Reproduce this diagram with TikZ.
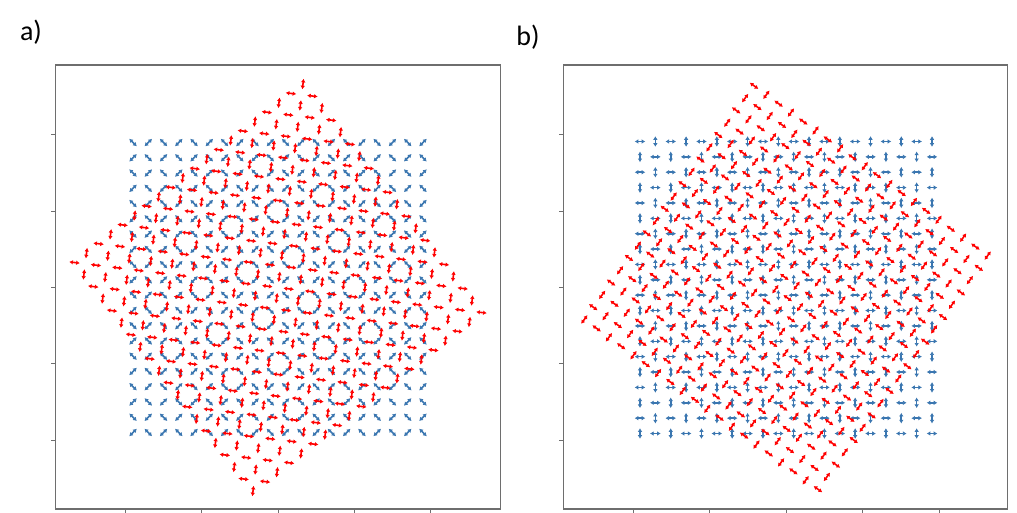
\documentclass[tikz,border=0pt]{standalone}
\usepackage{fontspec}
\setmainfont{Carlito}
\usetikzlibrary{arrows.meta}
\definecolor{qblue}{RGB}{58,118,176}
\definecolor{qred}{RGB}{255,0,0}
\definecolor{axgray}{RGB}{110,110,110}
\tikzset{
  dip/.style={line width=1.6pt, {Latex[length=3.6pt,width=4.6pt]}-{Latex[length=3.6pt,width=4.6pt]}},
  bluedip/.style={dip, color=qblue},
  reddip/.style={dip, color=qred},
  axframe/.style={draw=axgray, line width=1.1pt},
  axtick/.style={draw=axgray, line width=1pt},
  panellabel/.style={font=\fontsize{28}{32}\selectfont, inner sep=0pt}
}
% cx, cy, spacing, rotation, angle(even), angle(odd), style
\newcommand\dipgrid[7]{%
  \foreach \i in {0,...,19}{\foreach \j in {0,...,19}{%
    \pgfmathsetmacro\du{(\i-9.5)*#3}%
    \pgfmathsetmacro\dv{(\j-9.5)*#3}%
    \pgfmathsetmacro\px{#1+\du*cos(#4)+\dv*sin(#4)}%
    \pgfmathsetmacro\py{#2-\du*sin(#4)+\dv*cos(#4)}%
    \pgfmathsetmacro\al{ifthenelse(isodd(\i+\j),#6,#5)+#4}%
    \pgfmathsetmacro\ex{5.3*cos(\al)}%
    \pgfmathsetmacro\ey{5.3*sin(\al)}%
    \draw[#7] ({\px-\ex},{\py+\ey}) -- ({\px+\ex},{\py-\ey});
  }}%
}
\begin{document}
\begin{tikzpicture}[x=1pt,y=-1pt]
\useasboundingbox (0,0) rectangle (1017,512);
\fill[white] (0,0) rectangle (1017,512);

% panel labels
\node[panellabel] (la) at (31,32) {a)};
\node[panellabel] (lb) at (528,37) {b)};

% ---------- panel a ----------
\draw[axframe] (55.5,65) rectangle (500.5,509);
\foreach \k in {-2,...,2}{
  \draw[axtick] ({278+\k*76.3},509) -- ({278+\k*76.3},513);
  \draw[axtick] (55.5,{287.5+\k*76.3}) -- (51,{287.5+\k*76.3});
}
\dipgrid{278}{287.5}{15.26}{0}{135}{45}{bluedip}
\dipgrid{278}{287.5}{15.26}{38}{135}{45}{reddip}

% ---------- panel b ----------
\draw[axframe] (563.5,65) rectangle (1007.5,509);
\foreach \k in {-2,...,2}{
  \draw[axtick] ({786+\k*76.5},509) -- ({786+\k*76.5},513);
  \draw[axtick] (563.5,{287.5+\k*76.3}) -- (559,{287.5+\k*76.3});
}
\dipgrid{786}{287.5}{15.37}{0}{0}{90}{bluedip}
\dipgrid{786}{287.5}{15.2}{-36}{0}{90}{reddip}
\end{tikzpicture}
\end{document}
